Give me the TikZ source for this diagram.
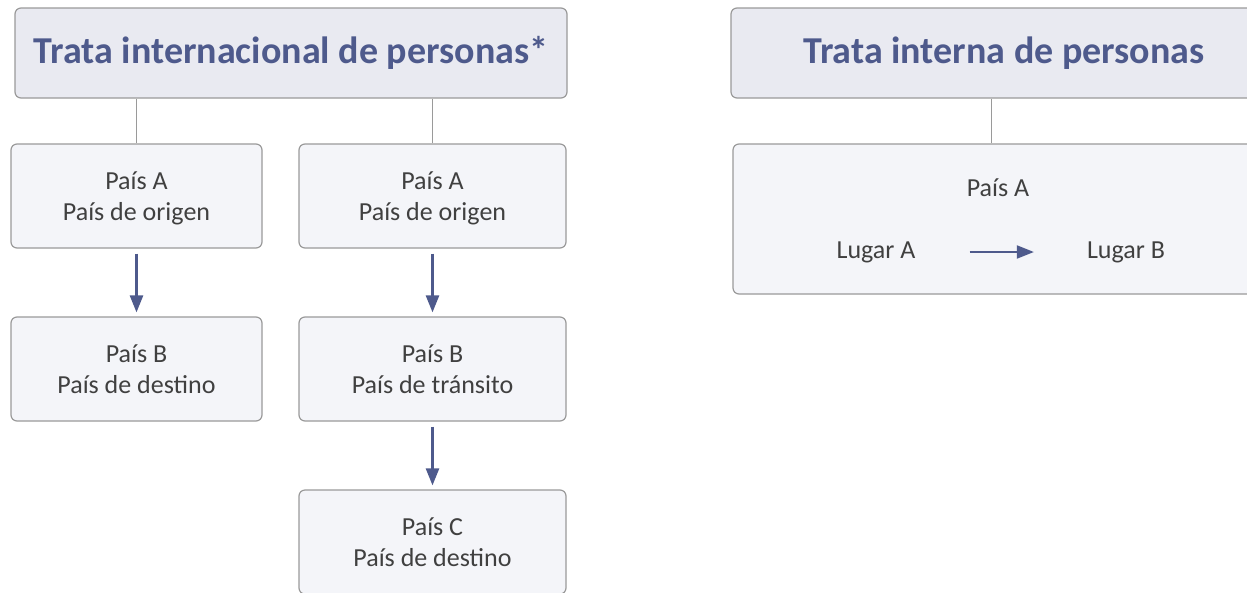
\documentclass[tikz,border=0pt]{standalone}
\usepackage{fontspec}
\setmainfont{Carlito}
\usetikzlibrary{arrows.meta,positioning}
\definecolor{tinta}{HTML}{4E5A8C}
\definecolor{borde}{HTML}{9A9A9A}
\definecolor{fondohdr}{HTML}{E9EAF1}
\definecolor{fondocaja}{HTML}{F4F5F9}
\definecolor{texto}{HTML}{404040}
\tikzset{
  titulo/.style={draw=borde, line width=1.2pt, rounded corners=6pt, fill=fondohdr,
    text=tinta, font=\fontsize{38}{44}\selectfont\bfseries, minimum height=90pt, inner sep=0pt},
  caja/.style={draw=borde, line width=1.2pt, rounded corners=6pt, fill=fondocaja,
    text=texto, font=\fontsize{26}{31}\selectfont, align=center, minimum height=104pt,
    inner sep=0pt, text depth=0pt},
  rotulo/.style={text=texto, font=\fontsize{26}{31}\selectfont, inner sep=0pt},
  rama/.style={draw=borde, line width=1pt},
  flecha/.style={draw=tinta, line width=2.5pt, -{Triangle[length=17pt,width=13pt]}},
}
\begin{document}
\begin{tikzpicture}[x=1pt,y=-1pt]
    \useasboundingbox (0,0) rectangle (1247,592);
    \clip (0,0) rectangle (1247,592);
        % trata internacional
        \node[titulo, minimum width=552pt] (intl) at (291,53) {Trata internacional de personas*};
        \node[caja, minimum width=251pt] (origA) at (136.5,196) {País A\\País de origen};
        \node[caja, minimum width=251pt] (destB) at (136.5,369) {País B\\País de destino};
        \node[caja, minimum width=267pt] (origA2) at (432.5,196) {País A\\País de origen};
        \node[caja, minimum width=267pt] (transB) at (432.5,369) {País B\\País de tránsito};
        \node[caja, minimum width=267pt] (destC) at (432.5,542) {País C\\País de destino};
        \draw[rama] (origA.north) -- (origA.north |- intl.south);
        \draw[rama] (origA2.north) -- (origA2.north |- intl.south);
        \draw[flecha, shorten <=5pt, shorten >=4pt] (origA) -- (destB);
        \draw[flecha, shorten <=5pt, shorten >=4pt] (origA2) -- (transB);
        \draw[flecha, shorten <=5pt, shorten >=4pt] (transB) -- (destC);
        % trata interna
        \node[titulo, minimum width=546pt] (interna) at (1004,53) {Trata interna de personas};
        \node[caja, minimum width=530pt, minimum height=150pt] (marco) at (998,219) {};
        \node[rotulo] (paisA) at (998,188) {País A};
        \node[rotulo] (lugarA) at (876,252) {Lugar A};
        \node[rotulo] (lugarB) at (1126,252) {Lugar B};
        \draw[rama] (marco.north -| 991,0) -- (interna.south -| 991,0);
        \draw[flecha, line width=2pt, shorten <=54pt, shorten >=53pt] (lugarA.east) -- (lugarB.west);
    \end{tikzpicture}
\end{document}
